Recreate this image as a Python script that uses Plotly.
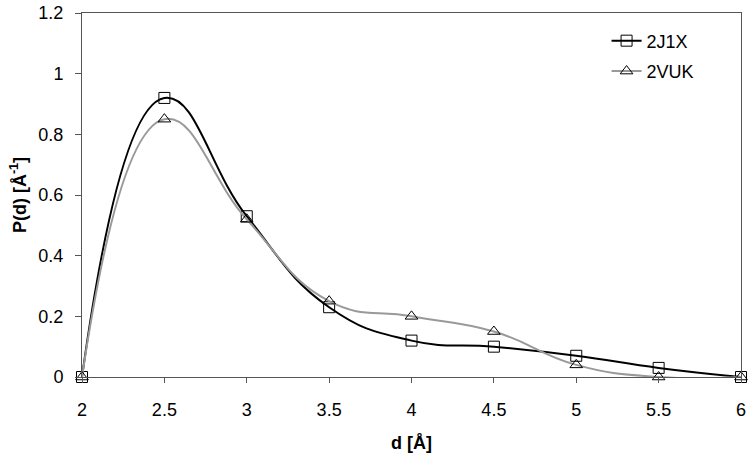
import plotly.graph_objects as go

d_values = [2, 2.5, 3, 3.5, 4, 4.5, 5, 5.5, 6]
p_2j1x = [0.0, 0.92, 0.53, 0.23, 0.12, 0.10, 0.07, 0.03, 0.0]
p_2vuk = [0.0, 0.85, 0.52, 0.25, 0.20, 0.15, 0.04, 0.0, 0.0]
x_ticks = [2, 2.5, 3, 3.5, 4, 4.5, 5, 5.5, 6]
y_ticks = [0, 0.2, 0.4, 0.6, 0.8, 1, 1.2]

font = "Liberation Sans, Arial, sans-serif"

fig = go.Figure()
fig.add_trace(go.Scatter(
    x=d_values, y=p_2j1x, name="2J1X", mode="lines+markers", cliponaxis=False,
    legendgroup="a",
    line=dict(color="black", width=2, shape="spline", smoothing=1.3),
    marker=dict(symbol="square-open", size=11, color="black", line=dict(width=1)),
))
fig.add_trace(go.Scatter(
    x=d_values, y=p_2vuk, name="2VUK", mode="lines+markers", cliponaxis=False,
    legendgroup="b",
    line=dict(color="#999999", width=2, shape="spline", smoothing=1.3),
    marker=dict(symbol="triangle-up-open", size=11, color="black", line=dict(width=1)),
))

fig.update_layout(
    width=752, height=459,
    margin=dict(l=82, r=11, t=13, b=82),
    paper_bgcolor="white", plot_bgcolor="white",
    font=dict(family=font, size=18, color="black"),
    showlegend=True,
    legend=dict(x=0.796, y=0.974, xanchor="left", yanchor="top",
                bgcolor="rgba(0,0,0,0)", font=dict(size=18), itemwidth=30,
                traceorder="grouped", tracegroupgap=4),
    xaxis=dict(range=[2, 6], tickvals=x_ticks, ticks="outside", ticklen=5,
               tickcolor="#555", showgrid=False, zeroline=False, automargin=False,
               showline=True, linecolor="#555", linewidth=1, mirror=True,
               ticklabelstandoff=11, ticklabeloverflow="allow"),
    yaxis=dict(range=[0, 1.2], tickvals=y_ticks, ticks="outside", ticklen=6,
               tickcolor="#555", showgrid=False, zeroline=False, automargin=False,
               showline=True, linecolor="#555", linewidth=1, mirror=True,
               ticklabelstandoff=8, ticklabeloverflow="allow"),
    annotations=[
        dict(text="<b>d [Å]</b>", xref="paper", yref="paper", x=0.5, y=-0.18,
             xanchor="center", yanchor="middle", showarrow=False, font=dict(size=18)),
        dict(text="<b>P(d) [Å<sup>-1</sup>]</b>", xref="paper", yref="paper",
             x=-0.097, y=0.5, xanchor="center", yanchor="middle", textangle=-90,
             showarrow=False, font=dict(size=18)),
    ],
)

# remove the browser's default 8px body margin so the figure fills the window exactly
fig.write_html("out.html", config={"displayModeBar": False},
               post_script="document.body.style.margin='0';document.body.style.overflow='hidden';")
